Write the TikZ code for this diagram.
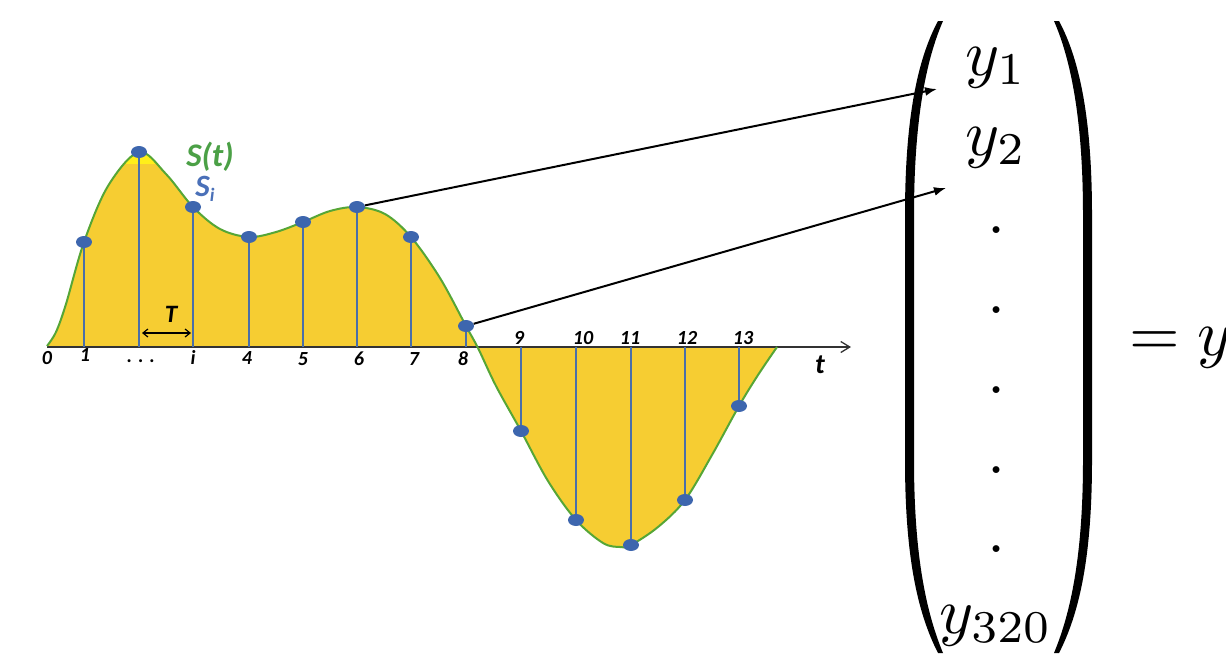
\documentclass[tikz,border=0pt]{standalone}
\usepackage{fontspec}
\newfontfamily\lblfont{Carlito}
\usetikzlibrary{shapes.geometric,arrows.meta}
\definecolor{fillY}{HTML}{F6CD32}
\definecolor{hiY}{HTML}{FFEF1A}
\definecolor{curveG}{HTML}{56A636}
\definecolor{stemB}{HTML}{4A6FA8}
\definecolor{dotB}{HTML}{3D66AE}
\definecolor{txtG}{HTML}{4BA046}
\definecolor{txtB}{HTML}{4A70B8}
\definecolor{axisC}{HTML}{333333}
\tikzset{
  dot/.style={ellipse,fill=dotB,inner sep=0pt,minimum width=16pt,minimum height=12pt},
  stem/.style={draw=stemB,line width=2.2pt},
  num/.style={anchor=base,inner sep=0pt,font=\lblfont\bfseries\itshape\fontsize{20}{20}\selectfont},
  conn/.style={draw=black,line width=2pt,-{Latex[length=12pt,width=9pt]}},
  entry/.style={anchor=base,inner sep=0pt,scale=6.5},
  paren/.style={fill=black}
}
\begin{document}
\begin{tikzpicture}[x=1pt,y=-1pt]
\useasboundingbox (0,0) rectangle (1226,657);
% filled signal
\fill[fillY] plot[smooth,tension=0.55] coordinates {(47,346) (56,332) (66,304) (84,242) (108,186) (139,152) (166,174) (193,207) (220,229) (249,237) (276,232) (303,222) (330,211) (357,207) (385,214) (411,237) (440,278) (466,326) (478,348) (496,386) (521,431) (548,481) (576,520) (603,543) (620,547) (631,545) (658,527) (685,500) (712,455) (739,406) (758,375) (777,347)} -- cycle;
\begin{scope}
\clip plot[smooth,tension=0.55] coordinates {(47,346) (56,332) (66,304) (84,242) (108,186) (139,152) (166,174) (193,207) (220,229) (249,237) (276,232)} -- cycle;
\fill[hiY] (120,140) rectangle (166,164);
\end{scope}
% axis
\coordinate (ax0) at (47,347);
\coordinate (ax1) at (851,347);
\draw[axisC,line width=1.3pt,-{Straight Barb[length=9pt,width=11pt]}] (ax0) -- (ax1);
% curve outline
\draw[curveG,line width=2pt] plot[smooth,tension=0.55] coordinates {(47,346) (56,332) (66,304) (84,242) (108,186) (139,152) (166,174) (193,207) (220,229) (249,237) (276,232) (303,222) (330,211) (357,207) (385,214) (411,237) (440,278) (466,326) (478,348) (496,386) (521,431) (548,481) (576,520) (603,543) (620,547) (631,545) (658,527) (685,500) (712,455) (739,406) (758,375) (777,347)};
% samples
\foreach \n/\x/\y in {1/84/242,2/139/152,3/193/207,4/249/237,5/303/222,6/357/207,7/411/237,8/466/326,9/521/431,10/576/520,11/631/545,12/685/500,13/739/406}{
  \coordinate (p\n) at (\x,\y);
  \coordinate (b\n) at (\x,347);
}
\foreach \n in {1,...,13}{\draw[stem] (b\n) -- (p\n);}
\foreach \n in {1,...,13}{\node[dot] (s\n) at (p\n) {};}
% tick labels
\node[num] (l0) at (47,364) {0};
\node[num] (l1) at (85,361) {1};
\node[num] (ld) at (141,362) {.\hspace{6pt}.\hspace{6pt}.};
\node[num] (li) at (193,364) {i};
\node[num] (l4) at (247,364) {4};
\node[num] (l5) at (303,365) {5};
\node[num] (l6) at (359,365) {6};
\node[num] (l7) at (414,365) {7};
\node[num] (l8) at (463,365) {8};
\node[num] (l9) at (519,344) {9};
\node[num] (l10) at (583,344) {10};
\node[num] (l11) at (630,344) {11};
\node[num] (l12) at (687,344) {12};
\node[num] (l13) at (743,344) {13};
\node[anchor=base,inner sep=0pt,font=\lblfont\bfseries\itshape\fontsize{28}{28}\selectfont] (tl) at (820,373) {t};
% period T
\coordinate (Tl) at (142,333);
\coordinate (Tr) at (191,333);
\draw[line width=1.2pt,{Straight Barb[length=5pt,width=8pt]}-{Straight Barb[length=5pt,width=8pt]}] (Tl) -- (Tr);
\node[anchor=base,inner sep=0pt,font=\lblfont\bfseries\itshape\fontsize{25}{25}\selectfont] (Tlab) at (171,322) {T};
% signal labels
\node[anchor=base,inner sep=0pt,text=txtG,font=\lblfont\bfseries\itshape\fontsize{33}{33}\selectfont] (St) at (210,166) {S(t)};
\node[anchor=base,inner sep=0pt,text=txtB,font=\lblfont\bfseries\itshape\fontsize{31}{31}\selectfont] (Si) at (205,196) {S\raisebox{-5pt}{\fontsize{19}{19}\selectfont i}};
% arrows to the vector
\coordinate (a1) at (937,89);
\coordinate (a2) at (946,188);
\draw[conn] (s6) -- (a1);
\draw[conn] (s8) -- (a2);
% parentheses
\fill[paren] (938,21) .. controls (917,60) and (905,120) .. (905,215) -- (905,460) .. controls (905,555) and (917,612) .. (938,653) -- (943,653) .. controls (926,612) and (914,555) .. (914,460) -- (914,215) .. controls (914,120) and (926,60) .. (943,21) -- cycle;
\fill[paren] (1059,21) .. controls (1080,60) and (1092,120) .. (1092,215) -- (1092,460) .. controls (1092,555) and (1080,612) .. (1059,653) -- (1054,653) .. controls (1071,612) and (1083,555) .. (1083,460) -- (1083,215) .. controls (1083,120) and (1071,60) .. (1054,21) -- cycle;
% entries
\node[entry] (m1) at (996,75) {$y_1$};
\node[entry] (m2) at (996,155) {$y_2$};
\node[entry] (d1) at (997,233.5) {.};
\node[entry] (d2) at (997,313.5) {.};
\node[entry] (d3) at (997,393.5) {.};
\node[entry] (d4) at (997,473.5) {.};
\node[entry] (d5) at (997,552.5) {.};
\node[entry] (m320) at (996,633) {$y_{320}$};
\node[entry,anchor=base west] (eq) at (1128,355) {$=y$};
\end{tikzpicture}
\end{document}
